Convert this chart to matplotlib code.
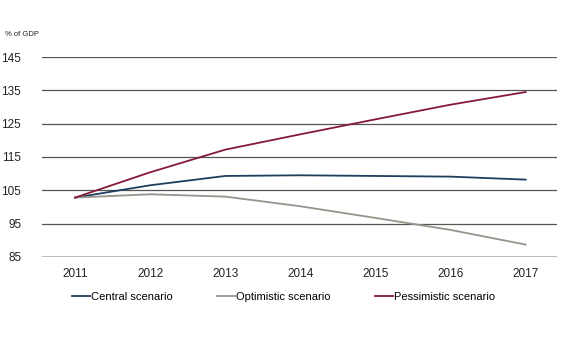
import matplotlib.pyplot as plt

years = ["2011", "2012", "2013", "2014", "2015", "2016", "2017"]
central = [102.8, 106.5, 109.3, 109.5, 109.3, 109.1, 108.2]
optimistic = [102.8, 103.8, 103.1, 100.2, 96.7, 93.1, 88.7]
pessimistic = [102.8, 110.4, 117.2, 121.8, 126.3, 130.7, 134.5]
yticks = [85, 95, 105, 115, 125, 135, 145]

plt.rcParams["font.family"] = ["Liberation Sans", "DejaVu Sans"]

fig = plt.figure(figsize=(5.75, 3.5), dpi=100)
ax = fig.add_axes([0.073, 0.266, 0.896, 0.571])

x = range(len(years))
ax.plot(x, central, color="#1c3f60", lw=1.3, label="Central scenario")
ax.plot(x, optimistic, color="#9a938c", lw=1.3, label="Optimistic scenario")
ax.plot(x, pessimistic, color="#861a36", lw=1.3, label="Pessimistic scenario")

ax.set_ylim(85, 145)
ax.set_xlim(-0.44, 6.42)
ax.set_yticks(yticks)
ax.set_xticks(list(x))
ax.set_xticklabels(years)
for t in yticks[1:]:
    ax.axhline(t, color="#555555", lw=0.9, zorder=0)
ax.axhline(85, color="#bbbbbb", lw=1.5, zorder=0)

for s in ax.spines.values():
    s.set_visible(False)
ax.tick_params(length=0, labelsize=8.5, colors="#222222")
ax.tick_params(axis="y", pad=15)
ax.tick_params(axis="x", pad=8)

fig.text(0.009, 0.897, "% of GDP", fontsize=5.5, color="#222222")

fig.legend(loc="center", bbox_to_anchor=(0.493, 0.152), ncol=3, frameon=False,
           fontsize=8, handlelength=1.6, handletextpad=0.1, columnspacing=4.0)

fig.savefig("out.png", dpi=100)
